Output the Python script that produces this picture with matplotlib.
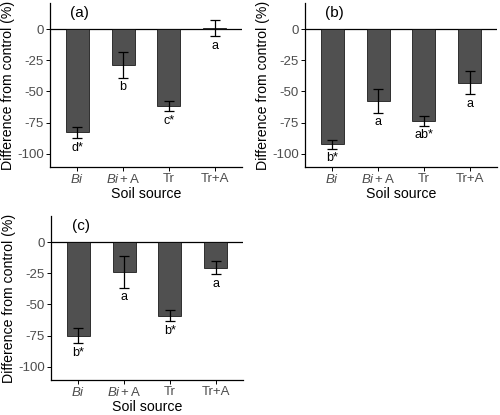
import matplotlib
matplotlib.use('Agg')
import matplotlib.pyplot as plt

plt.rcParams['font.family'] = ['Liberation Sans', 'DejaVu Sans']
plt.rcParams['mathtext.fontset'] = 'custom'
plt.rcParams['mathtext.rm'] = 'Liberation Sans'
plt.rcParams['mathtext.it'] = 'Liberation Sans:italic'

sources = [r'$\mathit{Bi}$', r'$\mathit{Bi}+\mathrm{A}$', 'Tr', 'Tr+A']
yticks = [0, -25, -50, -75, -100]

mean_a = [-83, -29, -62, 0.8]
se_a = [4.7, 10.4, 4.0, 6.6]
lab_a = ['d*', 'b', 'c*', 'a']

mean_b = [-92.5, -57.5, -73.5, -43]
se_b = [3.5, 9.6, 4.0, 9.5]
lab_b = ['b*', 'a', 'ab*', 'a']

mean_c = [-75, -24, -59, -20.5]
se_c = [6.4, 12.8, 4.5, 5.3]
lab_c = ['b*', 'a', 'b*', 'a']

W, H = 500, 415
fig = plt.figure(figsize=(W / 100, H / 100), dpi=100)


def panel(rect_px, tag, means, ses, labels):
    l, t, r, b = rect_px
    ax = fig.add_axes([l / W, (H - b) / H, (r - l) / W, (b - t) / H])
    x = list(range(1, len(means) + 1))
    ax.axhline(0, color='black', lw=0.9, zorder=1)
    ax.bar(x, means, width=0.5, color='#505050', edgecolor='black',
           linewidth=0.5, zorder=2)
    ax.errorbar(x, means, yerr=ses, fmt='none', ecolor='black',
                elinewidth=0.9, capsize=3.3, capthick=0.9, zorder=3)
    for xi, m, s, lab in zip(x, means, ses, labels):
        ax.text(xi, m - s - 7.5, lab, ha='center', va='center',
                fontsize=9, color='black', zorder=4)
    ax.set_xlim(0.4, 4.6)
    ax.set_ylim(-110.7, 20.9)
    ax.set_xticks(x)
    ax.set_xticklabels(sources)
    ax.set_yticks(yticks)
    ax.set_yticklabels([str(v) for v in yticks])
    for side in ('top', 'right'):
        ax.spines[side].set_visible(False)
    for side in ('left', 'bottom'):
        ax.spines[side].set_linewidth(0.9)
    ax.tick_params(axis='both', length=3, width=0.7, labelsize=9.5,
                   labelcolor='#4D4D4D', pad=1.5)
    ax.set_xlabel('Soil source', fontsize=10.2, labelpad=0.5)
    ax.set_ylabel('Difference from control (%)', fontsize=10.2, labelpad=1.5)
    ax.text(1.05, 12.5, tag, fontsize=11, ha='center', va='center')
    return ax


panel((50, 3, 242, 167), '(a)', mean_a, se_a, lab_a)
panel((305, 3, 497, 167), '(b)', mean_b, se_b, lab_b)
panel((51, 216, 243, 380), '(c)', mean_c, se_c, lab_c)

fig.savefig('out.png', dpi=100)
